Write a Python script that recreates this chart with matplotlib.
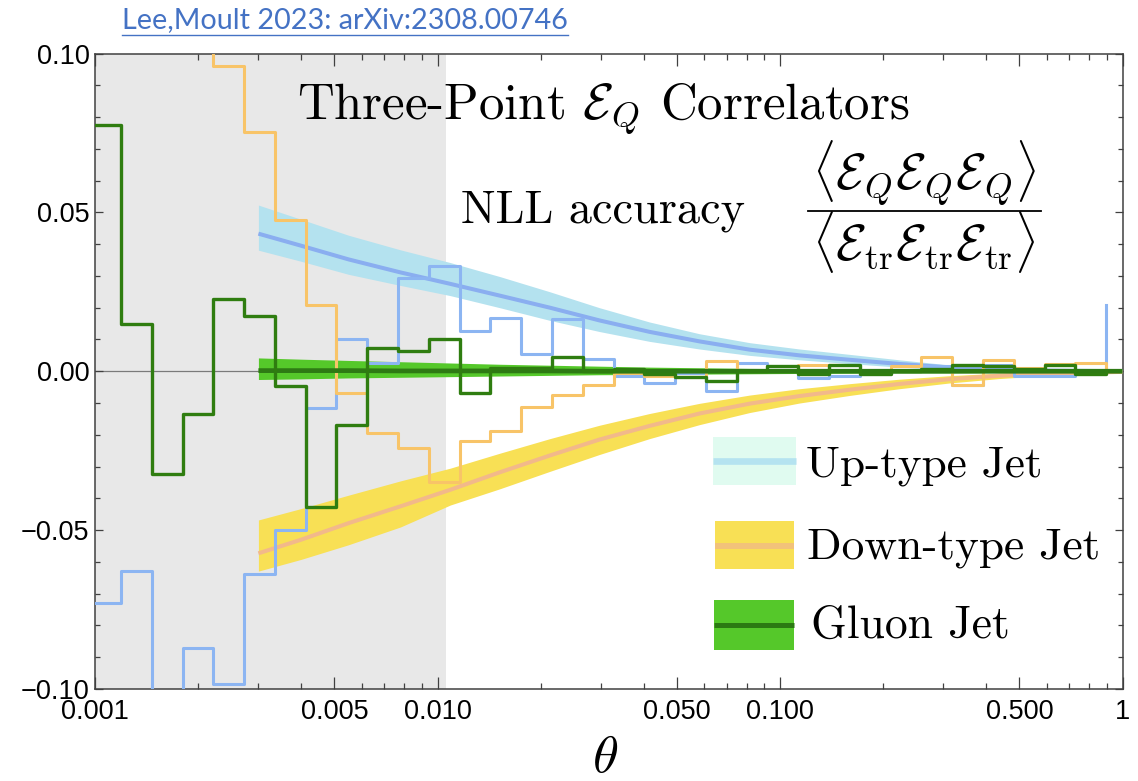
import numpy as np
import matplotlib
matplotlib.use("Agg")
import matplotlib.pyplot as plt
from matplotlib.lines import Line2D
from matplotlib.patches import Rectangle
from matplotlib.ticker import FixedLocator

plt.rcParams['mathtext.fontset'] = 'cm'

W, H = 1138, 781

# ---------------- data ----------------
# histogram bins: log10 of the first bin edge and the (uniform) log10 bin width
log_edge_first = -3.014
log_edge_step = 0.08988

up_hist = [-0.0728, -0.0629, -0.1300, -0.0871, -0.0983, -0.0639, -0.0499, -0.0116,
           0.0100, 0.0026, 0.0294, 0.0331, 0.0126, 0.0167, 0.0054, 0.0164,
           0.0038, -0.0016, -0.0037, -0.0005, -0.0063, 0.0026, 0.0003, -0.0021,
           -0.0016, 0.0000, 0.0002, 0.0016, -0.0042, 0.0021, -0.0016, -0.0016,
           0.0000, 0.0208]
down_hist = [0.1600, 0.1500, 0.1400, 0.1200, 0.0962, 0.0752, 0.0476, 0.0210,
             -0.0070, -0.0195, -0.0240, -0.0349, -0.0221, -0.0189, -0.0114, -0.0076,
             -0.0042, -0.0005, -0.0016, -0.0019, 0.0032, 0.0002, 0.0000, 0.0021,
             0.0000, -0.0005, 0.0016, 0.0046, -0.0042, 0.0035, 0.0010, 0.0024,
             0.0026, 0.0000]
gluon_hist = [0.0776, 0.0149, -0.0324, -0.0134, 0.0228, 0.0173, -0.0047, -0.0428,
              -0.0168, 0.0074, 0.0065, 0.0103, -0.0068, 0.0010, 0.0010, 0.0044,
              0.0000, 0.0008, -0.0010, -0.0019, -0.0032, 0.0000, 0.0018, -0.0008,
              0.0019, -0.0008, 0.0002, 0.0008, 0.0021, 0.0018, 0.0008, 0.0021,
              -0.0008, 0.0000]

# NLL theory curves
theta_th = [0.003, 0.004, 0.0055, 0.0078, 0.0109, 0.0152, 0.0213, 0.0297, 0.0416,
            0.0582, 0.0815, 0.114, 0.16, 0.223, 0.312, 0.437, 0.611, 1.0]
up_line = [0.0433, 0.0395, 0.0352, 0.0311, 0.0275, 0.0238, 0.0200, 0.0160, 0.0124,
           0.0094, 0.0068, 0.0050, 0.0036, 0.0023, 0.0012, 0.0005, 0.0002, 0.0]
up_hi = [0.0523, 0.0478, 0.0428, 0.0382, 0.0342, 0.0298, 0.0250, 0.0200, 0.0155,
         0.0118, 0.0090, 0.0070, 0.0053, 0.0036, 0.0020, 0.0009, 0.0003, 0.0]
up_lo = [0.0381, 0.0346, 0.0305, 0.0270, 0.0238, 0.0200, 0.0160, 0.0125, 0.0094,
         0.0070, 0.0050, 0.0036, 0.0024, 0.0013, 0.0005, 0.0001, 0.0, 0.0]
down_line = [-0.0573, -0.0530, -0.0478, -0.0425, -0.0373, -0.0318, -0.0265, -0.0215, -0.0172,
             -0.0133, -0.0102, -0.0078, -0.0058, -0.0040, -0.0025, -0.0014, -0.0007, -0.0002]
down_hi = [-0.0468, -0.0432, -0.0390, -0.0345, -0.0305, -0.0258, -0.0212, -0.0170, -0.0133,
           -0.0101, -0.0075, -0.0055, -0.0039, -0.0025, -0.0014, -0.0006, -0.0002, 0.0]
down_lo = [-0.0629, -0.0592, -0.0546, -0.0490, -0.0421, -0.0370, -0.0315, -0.0262, -0.0212,
           -0.0168, -0.0130, -0.0100, -0.0076, -0.0055, -0.0037, -0.0023, -0.0013, -0.0004]
gluon_line = [0.0002, 0.0002, 0.0002, 0.0001, 0.0001, 0.0001, 0.0001, 0.0, 0.0,
              0.0, 0.0, 0.0, 0.0, 0.0, 0.0, 0.0, 0.0, 0.0]
gluon_hi = [0.0042, 0.0038, 0.0034, 0.0030, 0.0026, 0.0022, 0.0019, 0.0016, 0.0013,
            0.0011, 0.0009, 0.0008, 0.0007, 0.0006, 0.0005, 0.0004, 0.0003, 0.0002]
gluon_lo = [-0.0026, -0.0024, -0.0021, -0.0019, -0.0017, -0.0015, -0.0013, -0.0011, -0.0010,
            -0.0009, -0.0008, -0.0007, -0.0006, -0.0005, -0.0005, -0.0004, -0.0003, -0.0002]

shade_max = 0.0106

x_major = [0.001, 0.005, 0.01, 0.05, 0.1, 0.5, 1.0]
x_major_labels = ["0.001", "0.005", "0.010", "0.050", "0.100", "0.500", "1"]
y_major = [-0.10, -0.05, 0.0, 0.05, 0.10]
y_major_labels = ["\u22120.10", "\u22120.05", "0.00", "0.05", "0.10"]

legend_labels = ["Up-type Jet", "Down-type Jet", "Gluon Jet"]

# ---------------- colours ----------------
c_up_hist, c_up_line, c_up_band = '#8cb5f2', '#8aaef0', '#b4e2ef'
c_dn_hist, c_dn_line, c_dn_band = '#f8c468', '#f2b98a', '#f8e055'
c_gl_hist, c_gl_line, c_gl_band = '#2f7d10', '#2e7a14', '#55c82a'

# ---------------- figure ----------------
fig = plt.figure(figsize=(W / 100, H / 100), dpi=100)
ax = fig.add_axes([95 / W, 1 - 689 / H, (1122.5 - 95) / W, (689 - 53.5) / H])
ax.set_xscale('log')
ax.set_xlim(0.001, 1.0)
ax.set_ylim(-0.1, 0.1)

ax.axvspan(0.001, shade_max, color='#e8e8e8', lw=0, zorder=0)
ax.axhline(0, color='#7a7a7a', lw=0.9, zorder=1)

ax.fill_between(theta_th, up_lo, up_hi, color=c_up_band, lw=0, zorder=2)
ax.fill_between(theta_th, down_lo, down_hi, color=c_dn_band, lw=0, zorder=2)
ax.fill_between(theta_th, gluon_lo, gluon_hi, color=c_gl_band, lw=0, zorder=2)
ax.plot(theta_th, up_line, color=c_up_line, lw=2.9, zorder=3, solid_capstyle='butt')
ax.plot(theta_th, down_line, color=c_dn_line, lw=2.9, zorder=3, solid_capstyle='butt')

edges = 10 ** (log_edge_first + log_edge_step * np.arange(len(up_hist)))
ax.step(edges, up_hist, where='post', color=c_up_hist, lw=2.2, zorder=4)
ax.step(edges, down_hist, where='post', color=c_dn_hist, lw=2.2, zorder=4)
ax.step(edges, gluon_hist, where='post', color=c_gl_hist, lw=2.4, zorder=5)
ax.plot(theta_th, gluon_line, color=c_gl_line, lw=3.4, zorder=4.5, solid_capstyle='butt')

# ticks
ax.xaxis.set_major_locator(FixedLocator(x_major))
ax.set_xticklabels(x_major_labels)
x_minor = [m * 10.0 ** e for e in (-3, -2, -1) for m in range(2, 10) if m != 5]
ax.xaxis.set_minor_locator(FixedLocator(x_minor))
ax.xaxis.set_minor_formatter(plt.NullFormatter())
ax.yaxis.set_major_locator(FixedLocator(y_major))
ax.set_yticklabels(y_major_labels)
ax.yaxis.set_minor_locator(FixedLocator([v / 100 for v in range(-10, 11) if v % 5 != 0]))

ax.tick_params(which='both', direction='in', top=True, right=True, color='#404040', width=0.9)
ax.tick_params(axis='x', which='major', length=8.5, pad=7, labelsize=19.5)
ax.tick_params(axis='x', which='minor', length=4.5)
ax.tick_params(axis='y', which='major', length=6, pad=4, labelsize=19.5)
ax.tick_params(axis='y', which='minor', length=3.5)
for lab in ax.get_xticklabels() + ax.get_yticklabels():
    lab.set_fontfamily('Liberation Sans')
for sp in ax.spines.values():
    sp.set_color('#404040')
    sp.set_linewidth(1.1)


def P(x, y):
    return (x / W, 1 - y / H)


texts = []
t_link = fig.text(*P(122, 28.5), "Lee,Moult 2023: arXiv:2308.00746", fontfamily='Lato',
                  fontsize=20, color='#4472c4', ha='left', va='baseline')
texts.append((t_link, 446))
t_title = fig.text(*P(297, 119), r"Three-Point $\mathcal{E}_Q$ Correlators", fontfamily='cmr10',
                   fontsize=34, ha='left', va='baseline')
texts.append((t_title, 613))
t_nll = fig.text(*P(461, 222), "NLL accuracy", fontfamily='cmr10', fontsize=31,
                 ha='left', va='baseline')
texts.append((t_nll, 284))
t_num = fig.text(*P(924, 190), r"$\langle\mathcal{E}_Q\mathcal{E}_Q\mathcal{E}_Q\rangle$",
                 fontsize=34, ha='center', va='baseline')
texts.append((t_num, 224))
t_den = fig.text(*P(924, 261), r"$\langle\mathcal{E}_{\rm tr}\mathcal{E}_{\rm tr}\mathcal{E}_{\rm tr}\rangle$",
                 fontsize=34, ha='center', va='baseline')
texts.append((t_den, 224))
fig.add_artist(Line2D([808 / W, 1041 / W], [1 - 210.5 / H] * 2, color='black', lw=1.3))

# legend (drawn manually to mimic the reference)
leg_rect_y = [(437, 485), (521, 569), (600, 650)]
leg_rect_x = [(713, 796), (715, 794), (714, 794)]
leg_rect_c = ['#e0fbf0', c_dn_band, c_gl_band]
leg_line_y = [461, 545.5, 625]
leg_line_c = ['#b5e3f0', '#f2c27a', '#2b7a12']
leg_line_w = [4.8, 4.3, 3.6]
leg_text_y = [476.5, 558, 638]
leg_text_x = [806, 807, 811]
leg_text_w = [237, 294, 199]
for i in range(3):
    x0, x1 = leg_rect_x[i]
    y0, y1 = leg_rect_y[i]
    fig.add_artist(Rectangle((x0 / W, 1 - y1 / H), (x1 - x0) / W, (y1 - y0) / H,
                             color=leg_rect_c[i], lw=0))
    fig.add_artist(Line2D([x0 / W, x1 / W], [1 - leg_line_y[i] / H] * 2,
                          color=leg_line_c[i], lw=leg_line_w[i], solid_capstyle='butt'))
    t = fig.text(*P(leg_text_x[i], leg_text_y[i]), legend_labels[i], fontfamily='cmr10',
                 fontsize=31, ha='left', va='baseline')
    texts.append((t, leg_text_w[i]))

fig.text(*P(605, 772), r"$\theta$", fontsize=38, ha='center', va='baseline')

# fit the text widths
fig.canvas.draw()
r = fig.canvas.get_renderer()
for t, w in texts:
    bb = t.get_window_extent(r)
    t.set_fontsize(t.get_fontsize() * w / bb.width)
fig.canvas.draw()
bb = t_link.get_window_extent(r)
fig.add_artist(Line2D([bb.x0 / W, bb.x1 / W], [1 - 35 / H] * 2, color='#4472c4', lw=1.0))

fig.savefig("out.png", dpi=100)
